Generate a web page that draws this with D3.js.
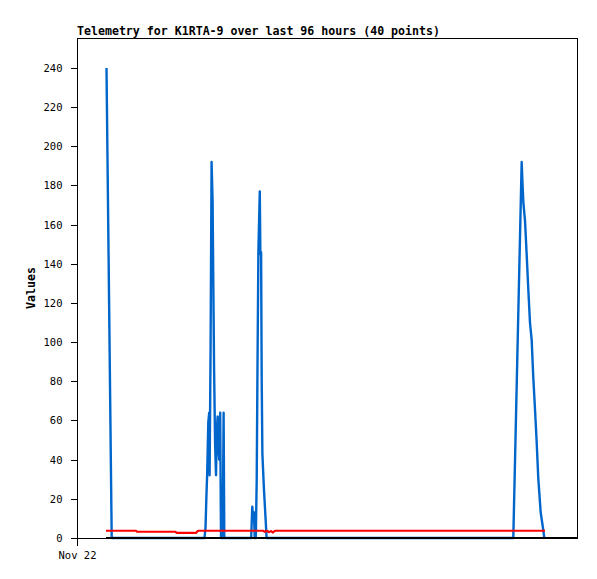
<!DOCTYPE html>
<html>
<head>
<meta charset="utf-8">
<script src="https://cdn.jsdelivr.net/npm/d3@7"></script>
<style>
  html, body { margin: 0; padding: 0; background: #fff; }
  svg { display: block; }
</style>
</head>
<body>
<script>
// ---- data (hours after Nov 22 00:00 UTC) ----
const title = "Telemetry for K1RTA-9 over last 96 hours (40 points)";
const yLabel = "Values";
const xTickLabels = ["Nov 22"];
const yTicks = [0, 20, 40, 60, 80, 100, 120, 140, 160, 180, 200, 220, 240];

const blueHours = [6.45, 7.59, 27.88, 28.10, 28.27, 28.47, 28.71, 28.91, 29.00, 29.21, 29.43, 29.65, 29.81, 29.98,
  30.20, 30.40, 30.57, 30.75, 30.90, 31.10, 31.31, 31.49, 31.86, 32.06, 32.21,
  38.09, 38.33, 38.53, 38.71, 38.86, 39.10, 39.30, 39.47, 39.67, 39.97, 40.10, 40.26, 40.39, 40.54, 40.89, 41.26, 41.46,
  95.41, 97.24, 97.44, 97.62, 97.97, 98.34, 98.69, 99.06, 99.43, 99.78, 100.15, 100.53, 100.87, 101.40, 101.97, 102.19];
const blueValues = [240, 0, 0, 5, 19, 33, 59, 64, 32, 97, 192, 172, 130, 86,
  48, 32, 55, 62, 46, 40, 64, 0, 0, 64, 0,
  0, 16, 9, 13, 0, 0, 30, 88, 147, 177, 145, 146, 81, 43, 24.5, 9, 0,
  0, 192, 180, 171, 162, 144.5, 127, 110, 101, 82, 66, 48.5, 30.6, 13, 4, 0];

const redHours = [6.34, 12.90, 13.12, 21.54, 21.76, 26.02, 26.46, 40.67, 41.11, 41.55, 41.98, 42.42, 42.86, 43.30, 102.34];
const redValues = [3.7, 3.7, 3.2, 3.2, 2.6, 2.6, 3.7, 3.7, 3.2, 3.7, 3.0, 3.5, 2.8, 3.7, 3.7];

const blackHours = [6.34, 109.34];
const blackValues = [0, 0];

const domainHours = [0, 109.34];
const yMax = 255.3;

// ---- layout ----
const W = 597, H = 579;
const pLeft = 77, pRight = 577, pTop = 38, pBottom = 538;
const base = Date.UTC(2023, 10, 22);
const toDate = h => new Date(base + h * 3600e3);

const svg = d3.select("body").append("svg").attr("width", W).attr("height", H);

const x = d3.scaleUtc().domain(domainHours.map(toDate)).range([pLeft, pRight]);
const y = d3.scaleLinear().domain([0, yMax]).range([pBottom, pTop]);

const mono = "'DejaVu Sans Mono', 'Liberation Mono', monospace";

// title
svg.append("text").attr("x", pLeft).attr("y", 35)
  .attr("font-family", mono).attr("font-size", "11.6px").attr("font-weight", "bold")
  .text(title);

// y label
svg.append("text").attr("transform", `translate(35,${(pTop + pBottom) / 2}) rotate(-90)`)
  .attr("text-anchor", "middle")
  .attr("font-family", mono).attr("font-size", "11.6px").attr("font-weight", "bold")
  .text(yLabel);

// series
const line = d3.line().x(d => x(toDate(d[0]))).y(d => y(d[1]));
function drawSeries(hours, values, color, w) {
  svg.append("path").datum(hours.map((h, i) => [h, values[i]]))
    .attr("d", line).attr("fill", "none").attr("stroke", color)
    .attr("stroke-width", w).attr("stroke-linejoin", "round");
}
drawSeries(blueHours, blueValues, "#0066cc", 2.4);
drawSeries(blackHours, blackValues, "#000000", 2);
drawSeries(redHours, redValues, "#ff0000", 2.2);

// frame
svg.append("rect").attr("x", pLeft + 0.5).attr("y", pTop + 0.5)
  .attr("width", pRight - pLeft).attr("height", pBottom - pTop)
  .attr("fill", "none").attr("stroke", "#000").attr("stroke-width", 1)
  .attr("shape-rendering", "crispEdges");

// y axis
const yAxis = d3.axisLeft(y).tickValues(yTicks).tickSize(7).tickPadding(8).tickFormat(d3.format("d"));
const gy = svg.append("g").attr("transform", `translate(${pLeft + 0.5},0)`).call(yAxis);
gy.select(".domain").remove();
gy.selectAll("text").attr("font-family", mono).attr("font-size", "10.5px").attr("fill", "#000");
gy.selectAll("line").attr("shape-rendering", "crispEdges");

// x axis
const xAxis = d3.axisBottom(x).tickValues([toDate(0)]).tickSize(7).tickPadding(6)
  .tickFormat((d, i) => xTickLabels[i]);
const gx = svg.append("g").attr("transform", `translate(0,${pBottom + 0.5})`).call(xAxis);
gx.select(".domain").remove();
gx.selectAll("text").attr("font-family", mono).attr("font-size", "10.5px").attr("fill", "#000");
gx.selectAll("line").attr("shape-rendering", "crispEdges");
</script>
</body>
</html>
